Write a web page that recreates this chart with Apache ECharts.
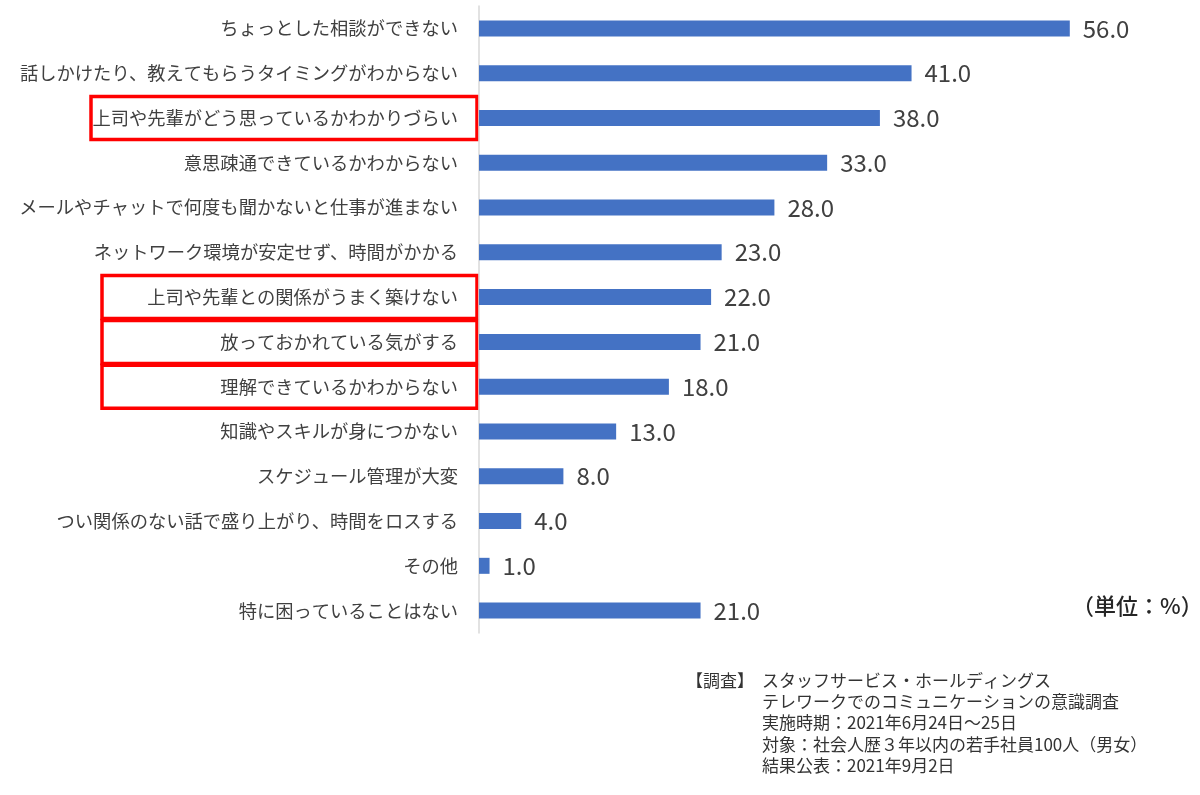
<!DOCTYPE html>
<html>
<head>
<meta charset="utf-8">
<script src="https://cdn.jsdelivr.net/npm/echarts@6/dist/echarts.min.js"></script>
<style>
  html, body { margin: 0; padding: 0; background: #fff; }
  #chart { width: 1200px; height: 795px; }
</style>
</head>
<body>
<div id="chart"></div>
<script>
// 項目（上から順）
const categories = [
    'ちょっとした相談ができない',
    '話しかけたり、教えてもらうタイミングがわからない',
    '上司や先輩がどう思っているかわかりづらい',
    '意思疎通できているかわからない',
    'メールやチャットで何度も聞かないと仕事が進まない',
    'ネットワーク環境が安定せず、時間がかかる',
    '上司や先輩との関係がうまく築けない',
    '放っておかれている気がする',
    '理解できているかわからない',
    '知識やスキルが身につかない',
    'スケジュール管理が大変',
    'つい関係のない話で盛り上がり、時間をロスする',
    'その他',
    '特に困っていることはない'
];
const values = [56.0, 41.0, 38.0, 33.0, 28.0, 23.0, 22.0, 21.0, 18.0, 13.0, 8.0, 4.0, 1.0, 21.0];

// 赤枠で強調する項目
const highlighted = [
    '上司や先輩がどう思っているかわかりづらい',
    '上司や先輩との関係がうまく築けない',
    '放っておかれている気がする',
    '理解できているかわからない'
];

const unitText = '（単位：%）';
const noteHead = '【調査】';
const noteLines = [
    'スタッフサービス・ホールディングス',
    'テレワークでのコミュニケーションの意識調査',
    '実施時期：2021年6月24日～25日',
    '対象：社会人歴３年以内の若手社員100人（男女）',
    '結果公表：2021年9月2日'
];

const FONT = '"Noto Sans CJK JP", "Noto Sans", sans-serif';
const chart = echarts.init(document.getElementById('chart'));

chart.setOption({
    backgroundColor: '#fff',
    textStyle: { fontFamily: FONT },
    grid: { left: 479, right: 88, top: 6, bottom: 162, containLabel: false, outerBoundsMode: 'none' },
    xAxis: {
        type: 'value',
        min: 0,
        max: 60,
        show: false
    },
    yAxis: {
        type: 'category',
        data: categories,
        inverse: true,
        axisLine: { show: true, lineStyle: { color: '#d9d9d9', width: 1.5 } },
        axisTick: { show: false },
        axisLabel: { fontSize: 18.3, color: '#404040', margin: 21, fontFamily: FONT }
    },
    series: [{
        type: 'bar',
        data: values,
        barWidth: 16,
        itemStyle: { color: '#4472C4' },
        label: {
            show: true,
            position: 'right',
            distance: 13,
            fontSize: 24,
            color: '#404040',
            fontFamily: FONT,
            formatter: p => p.value.toFixed(1)
        },
        silent: true
    }]
});

// 赤枠と注記を追加
function drawExtras() {
    const x0 = chart.convertToPixel({ xAxisIndex: 0 }, 0);
    const graphics = [];
    highlighted.forEach((name, i) => {
        const cy = chart.convertToPixel({ yAxisIndex: 0 }, name);
        const left = i === 0 ? 91 : 102;
        graphics.push({
            type: 'rect',
            shape: { x: left, y: cy - 21.5, width: x0 - left - 2, height: 43 },
            style: { fill: 'none', stroke: '#ff0000', lineWidth: 3.5 },
            silent: true
        });
    });
    const lastY = chart.convertToPixel({ yAxisIndex: 0 }, categories[categories.length - 1]);
    graphics.push({
        type: 'text',
        left: 1072,
        top: lastY - 16,
        style: { text: unitText, fontSize: 22, fontWeight: 500, fill: '#262626', fontFamily: FONT }
    });
    graphics.push({
        type: 'text',
        left: 686,
        top: 672,
        style: { text: noteHead, fontSize: 17, fill: '#333', fontFamily: FONT }
    });
    noteLines.forEach((t, i) => {
        graphics.push({
            type: 'text',
            left: 762,
            top: 672 + i * 21.2,
            style: { text: t, fontSize: 17, fill: '#333', fontFamily: FONT }
        });
    });
    chart.setOption({ graphic: graphics });
}
drawExtras();

window.addEventListener('resize', () => { chart.resize(); drawExtras(); });
</script>
</body>
</html>
